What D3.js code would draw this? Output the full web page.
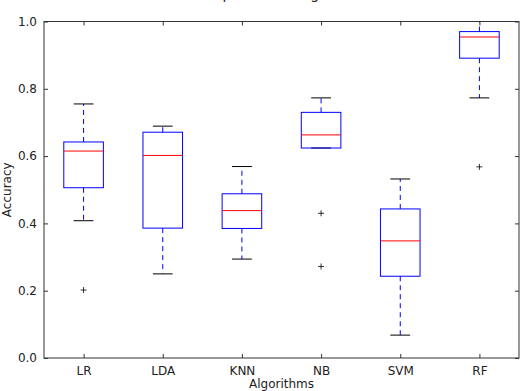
<!DOCTYPE html>
<head>
<meta charset="utf-8">
<style>
body { margin: 0; background: #fff; }
text { font-family: "DejaVu Sans", sans-serif; }
.axis path { display: none; }
.axis line { stroke: #333; }
.axis text { fill: #222; font-size: 12px; }
</style>
</head>
<body>
<script src="https://d3js.org/d3.v7.min.js"></script>
<script>

// box plot statistics
var algorithms = ["LR", "LDA", "KNN", "NB", "SVM", "RF"];
var whiskerLow = [0.408, 0.250, 0.294, 0.624, 0.068, 0.773];
var q1 = [0.506, 0.386, 0.385, 0.624, 0.243, 0.891];
var medians = [0.615, 0.602, 0.438, 0.663, 0.348, 0.954];
var q3 = [0.642, 0.671, 0.488, 0.730, 0.443, 0.970];
var whiskerHigh = [0.755, 0.689, 0.569, 0.773, 0.532, 1.0];
var outliers = [[0.202], [], [], [0.430, 0.272], [], [0.568]];
var yTicks = [0.0, 0.2, 0.4, 0.6, 0.8, 1.0];

var margin = {top: 21.5, right: 4, bottom: 33, left: 44},
    width = 523 - margin.left - margin.right,
    height = 391 - margin.top - margin.bottom;

var svg = d3.select("body").append("svg")
    .attr("width", 523)
    .attr("height", 391)
  .append("g")
    .attr("transform", "translate(" + margin.left + "," + margin.top + ")");

var x = d3.scalePoint().domain(algorithms).range([0, width]).padding(0.5);
var y = d3.scaleLinear().domain([0, 1]).range([height, 0]);
var boxW = x.step() * 0.5, capW = x.step() * 0.25;

// title sits above the window in the reference, only the descenders show
svg.append("text")
    .attr("x", width / 2)
    .attr("y", -margin.top - 1.5)
    .attr("text-anchor", "middle")
    .style("font-size", "14px")
    .style("fill", "#222")
    .text("Comparison of Algorithms");

var data = algorithms.map(function(a, i) {
  return {name: a, lo: whiskerLow[i], q1: q1[i], med: medians[i], q3: q3[i], hi: whiskerHigh[i], out: outliers[i]};
});

var g = svg.selectAll(".box").data(data).enter().append("g")
    .attr("class", "box")
    .attr("transform", function(d) { return "translate(" + x(d.name) + ",0)"; });

// whiskers
g.append("line")
    .attr("y1", function(d) { return y(d.q3); })
    .attr("y2", function(d) { return y(d.hi); })
    .attr("stroke", "#0000ff").attr("stroke-dasharray", "5,4");
g.append("line")
    .attr("y1", function(d) { return y(d.q1); })
    .attr("y2", function(d) { return y(d.lo); })
    .attr("stroke", "#0000ff").attr("stroke-dasharray", "5,4");

// caps
g.append("line")
    .attr("x1", -capW / 2).attr("x2", capW / 2)
    .attr("y1", function(d) { return y(d.hi); })
    .attr("y2", function(d) { return y(d.hi); })
    .attr("stroke", "#000");
g.append("line")
    .attr("x1", -capW / 2).attr("x2", capW / 2)
    .attr("y1", function(d) { return y(d.lo); })
    .attr("y2", function(d) { return y(d.lo); })
    .attr("stroke", "#000");

// box
g.append("rect")
    .attr("x", -boxW / 2)
    .attr("width", boxW)
    .attr("y", function(d) { return y(d.q3); })
    .attr("height", function(d) { return y(d.q1) - y(d.q3); })
    .attr("fill", "none")
    .attr("stroke", "#0000ff");

// median
g.append("line")
    .attr("x1", -boxW / 2).attr("x2", boxW / 2)
    .attr("y1", function(d) { return y(d.med); })
    .attr("y2", function(d) { return y(d.med); })
    .attr("stroke", "#ff0000");

// fliers
g.selectAll(".flier").data(function(d) { return d.out; }).enter().append("path")
    .attr("class", "flier")
    .attr("d", function(v) { return "M-3," + y(v) + "H3M0," + (y(v) - 3) + "V" + (y(v) + 3); })
    .attr("stroke", "#000")
    .attr("stroke-width", 0.8);

// axes, ticks point inward on all four sides
svg.append("g").attr("class", "axis")
    .attr("transform", "translate(0," + height + ")")
    .call(d3.axisBottom(x).tickSizeInner(-4).tickSizeOuter(0).tickPadding(8));
svg.append("g").attr("class", "axis")
    .call(d3.axisTop(x).tickSizeInner(-4).tickSizeOuter(0).tickFormat(""));
svg.append("g").attr("class", "axis")
    .call(d3.axisLeft(y).tickValues(yTicks).tickFormat(d3.format(".1f")).tickSizeInner(-4).tickSizeOuter(0).tickPadding(7));
svg.append("g").attr("class", "axis")
    .attr("transform", "translate(" + width + ",0)")
    .call(d3.axisRight(y).tickValues(yTicks).tickSizeInner(-4).tickSizeOuter(0).tickFormat(""));

// frame
svg.append("rect")
    .attr("width", width).attr("height", height)
    .attr("fill", "none").attr("stroke", "#333");

// axis labels
svg.append("text")
    .attr("x", width / 2)
    .attr("y", height + 30)
    .attr("text-anchor", "middle")
    .style("font-size", "12px").style("fill", "#222")
    .text("Algorithms");
svg.append("text")
    .attr("transform", "translate(" + (-margin.left + 11) + "," + (height / 2) + ") rotate(-90)")
    .attr("text-anchor", "middle")
    .style("font-size", "12px").style("fill", "#222")
    .text("Accuracy");

</script>
</body>
